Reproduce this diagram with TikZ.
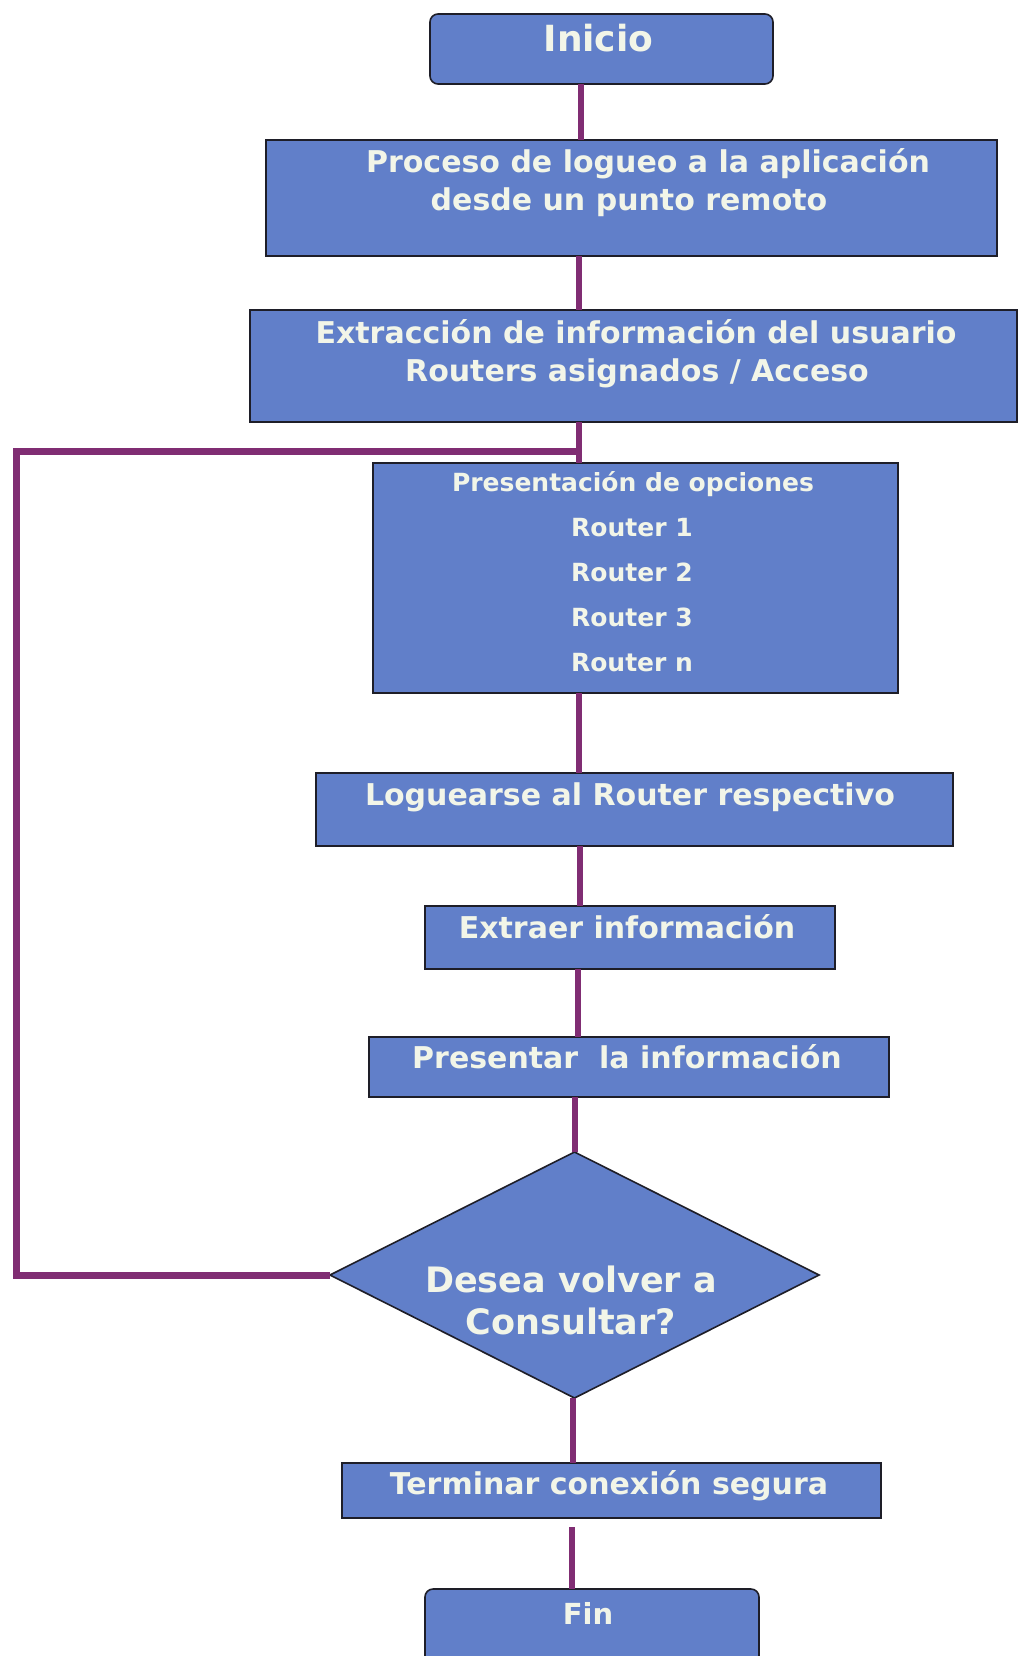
\documentclass[tikz,border=0pt]{standalone}
\usepackage{fontspec}
\setmainfont{DejaVu Sans}
\usetikzlibrary{shapes.geometric}
\definecolor{boxfill}{RGB}{97,127,201}
\definecolor{boxline}{RGB}{30,30,40}
\definecolor{conncol}{RGB}{128,45,115}
\definecolor{txtcol}{RGB}{242,245,232}
\newcommand\myfs[1]{\fontsize{#1}{#1}\selectfont\bfseries}
\tikzset{
  box/.style={draw=boxline, line width=1.6pt, fill=boxfill, inner sep=0pt, outer sep=0pt},
  rbox/.style={box, rounded corners=8pt},
  dbox/.style={box, diamond},
  txt/.style={text=txtcol, inner sep=0pt, anchor=base},
  conn/.style={draw=conncol, line width=6pt},
  loopline/.style={draw=conncol, line width=7pt, line join=miter},
}
\begin{document}
\begin{tikzpicture}[x=1pt,y=-1pt]
\useasboundingbox[fill=white] (0,0) rectangle (1017,1656);
% connector end coordinates
\coordinate (lx) at (16,1000);
\coordinate (jn) at (580,451);
% boxes
\node[rbox, minimum width=343pt, minimum height=70pt] (inicio) at (601.5,49) {};
\node[box, minimum width=731pt, minimum height=116pt] (proceso) at (631.5,198) {};
\node[box, minimum width=767pt, minimum height=112pt] (extrac) at (633.5,366) {};
\node[box, minimum width=525pt, minimum height=230pt] (opciones) at (635.5,578) {};
\node[box, minimum width=637pt, minimum height=73pt] (loguear) at (634.5,809.5) {};
\node[box, minimum width=410pt, minimum height=63pt] (extraer) at (630,937.5) {};
\node[box, minimum width=520pt, minimum height=60pt] (presentar) at (629,1067) {};
\node[dbox, minimum width=489pt, minimum height=246pt] (dia) at (574.5,1275) {};
\node[box, minimum width=539pt, minimum height=55pt] (terminar) at (611.5,1490.5) {};
\node[rbox, minimum width=334pt, minimum height=90pt] (fin) at (592,1634) {};
% connectors
\draw[conn] (inicio.south -| 581,0) -- (proceso.north -| 581,0);
\draw[conn] (proceso.south -| 579,0) -- (extrac.north -| 579,0);
\draw[conn] (extrac.south -| 579,0) -- (opciones.north -| 579,0);
\draw[conn] (opciones.south -| 579,0) -- (loguear.north -| 579,0);
\draw[conn] (loguear.south -| 580,0) -- (extraer.north -| 580,0);
\draw[conn] (extraer.south -| 578,0) -- (presentar.north -| 578,0);
\draw[conn] (presentar.south -| dia.north) -- (dia.north);
\draw[conn] (dia.south -| 573,0) -- (terminar.north -| 573,0);
\draw[conn, shorten <=9pt] (terminar.south -| 572,0) -- (fin.north -| 572,0);
\draw[loopline] (dia.west) -- (dia.west -| lx) |- (jn);
% texts
\node[txt, font=\myfs{36}] (t-inicio) at (598.5,52) {Inicio};
\node[txt, font=\myfs{30}] (t-proc1) at (648,173) {Proceso de logueo a la aplicación};
\node[txt, font=\myfs{30}] (t-proc2) at (629,211) {desde un punto remoto};
\node[txt, font=\myfs{30}] (t-ext1) at (636,343) {Extracción de información del usuario};
\node[txt, font=\myfs{30}] (t-ext2) at (637,381) {Routers asignados / Acceso};
\node[txt, font=\myfs{25}] (t-op0) at (633,491) {Presentación de opciones};
\node[txt, font=\myfs{25}] (t-op1) at (632,536) {Router 1};
\node[txt, font=\myfs{25}] (t-op2) at (632,581) {Router 2};
\node[txt, font=\myfs{25}] (t-op3) at (632,626) {Router 3};
\node[txt, font=\myfs{25}] (t-opn) at (632,671) {Router n};
\node[txt, font=\myfs{30}] (t-log) at (630,805) {Loguearse al Router respectivo};
\node[txt, font=\myfs{30}] (t-extr) at (627,938) {Extraer información};
\node[txt, font=\myfs{30}] (t-pres) at (627,1068) {Presentar\ \ la información};
\node[txt, font=\myfs{35}] (t-dia1) at (571,1292) {Desea volver a};
\node[txt, font=\myfs{35}] (t-dia2) at (571,1334) {Consultar?};
\node[txt, font=\myfs{30}] (t-term) at (609,1494) {Terminar conexión segura};
\node[txt, font=\myfs{29}] (t-fin) at (588,1624) {Fin};
\end{tikzpicture}
\end{document}
